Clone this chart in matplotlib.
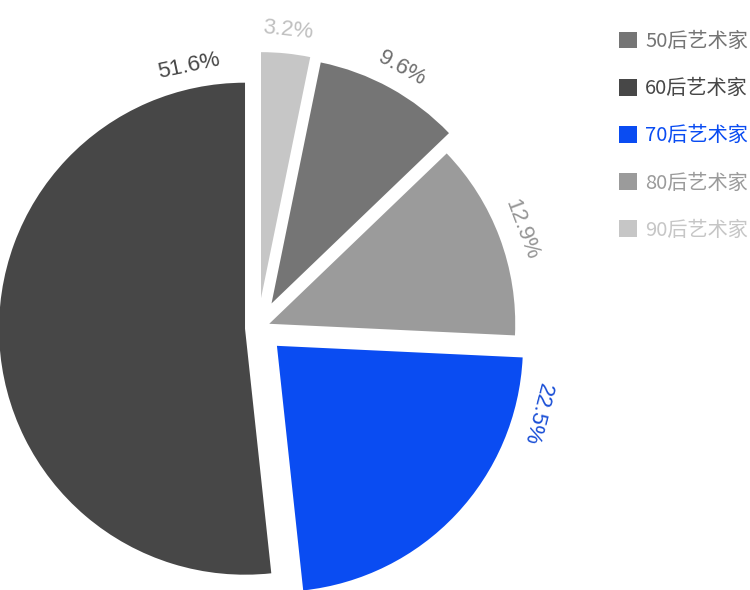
import numpy as np
import matplotlib.pyplot as plt

plt.rcParams['font.family'] = ['Noto Sans CJK SC', 'DejaVu Sans']

# 饼图顺序：从12点钟方向顺时针
groups = ['90后艺术家', '50后艺术家', '80后艺术家', '70后艺术家', '60后艺术家']
shares = [3.2, 9.6, 12.9, 22.5, 51.6]
pct_labels = ['3.2%', '9.6%', '12.9%', '22.5%', '51.6%']
colors = ['#c6c6c6', '#757575', '#9b9b9b', '#0a4cf2', '#474747']
label_colors = ['#c0c0c0', '#6e6e6e', '#959595', '#1a4fd6', '#474747']

# 图例顺序
legend_order = ['50后艺术家', '60后艺术家', '70后艺术家', '80后艺术家', '90后艺术家']

fig = plt.figure(figsize=(7.5, 5.9), dpi=100)
ax = fig.add_axes([0, 0, 1, 1])

# 坐标单位即像素，explode 也是像素
cx, cy, r = 258, 262, 246
explode = [30, 28, 12, 26, 13]
wedges, _ = ax.pie(shares, explode=explode, colors=colors, startangle=90,
                   counterclock=False, center=(cx, cy), radius=r,
                   wedgeprops=dict(linewidth=0))

# 百分比标签，沿圆周方向旋转；大扇区的标签靠近上边
for w, txt, col in zip(wedges, pct_labels, label_colors):
    t1, t2 = w.theta1, w.theta2
    mid = (t1 + t2) / 2
    ang = mid
    if t2 - t1 > 60:
        if np.cos(np.radians(mid)) >= 0:
            ang = t2 - 12
        else:
            ang = t1 + 12
    wx, wy = w.center
    d = r + 23
    x = wx + d * np.cos(np.radians(ang))
    y = wy + d * np.sin(np.radians(ang))
    rot = (ang - 90 + 180) % 360 - 180
    ax.text(x, y, txt, color=col, fontsize=16, rotation=rot,
            family=['Liberation Sans', 'DejaVu Sans'],
            rotation_mode='anchor', ha='center', va='center')

handles = [wedges[groups.index(g)] for g in legend_order]
ax.legend(handles, legend_order, loc='upper left',
          bbox_to_anchor=(619 / 750, 1 - 31 / 590), frameon=False,
          fontsize=14.5, handlelength=0.9, handleheight=0.9,
          handletextpad=0.4, labelspacing=1.3, borderpad=0,
          borderaxespad=0, labelcolor='linecolor')

ax.set_xlim(0, 750)
ax.set_ylim(0, 590)
ax.set_aspect('equal')
ax.axis('off')

plt.savefig('out.png', dpi=100)
